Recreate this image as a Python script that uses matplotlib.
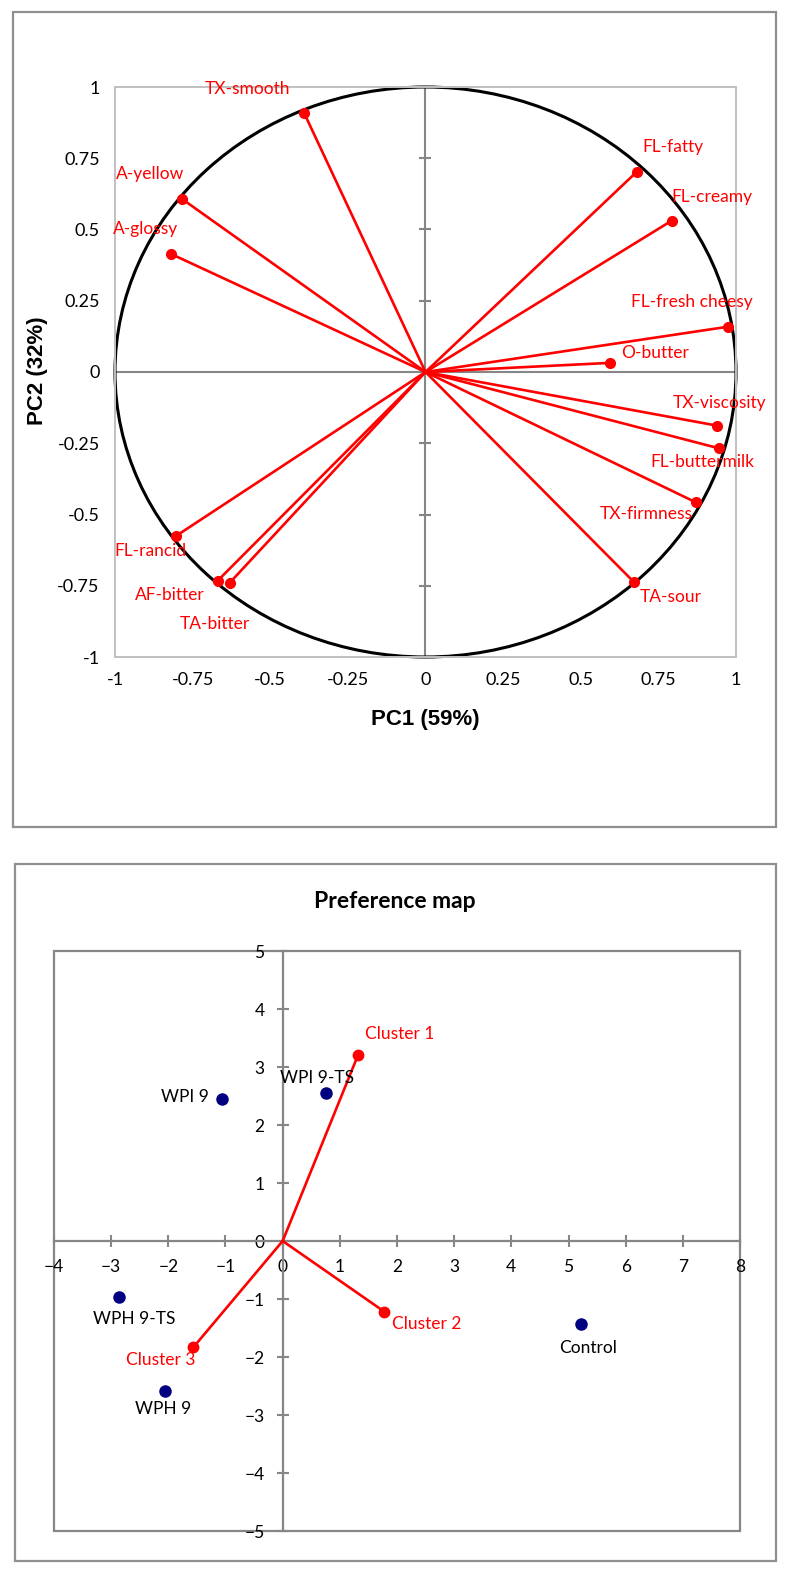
import numpy as np
import matplotlib
matplotlib.use("Agg")
import matplotlib.pyplot as plt
from matplotlib.patches import Circle, Rectangle

# loadings on PC1 / PC2 (correlation circle)
attributes = ["TX-smooth", "A-yellow", "A-glossy", "FL-fatty", "FL-creamy",
              "FL-fresh cheesy", "O-butter", "TX-viscosity", "FL-buttermilk",
              "TX-firmness", "TA-sour", "FL-rancid", "AF-bitter", "TA-bitter"]
pc1 = [-0.391, -0.784, -0.819, 0.681, 0.793, 0.975, 0.594, 0.938, 0.946,
       0.870, 0.672, -0.803, -0.669, -0.630]
pc2 = [0.909, 0.607, 0.414, 0.703, 0.531, 0.159, 0.032, -0.188, -0.268,
       -0.457, -0.738, -0.575, -0.732, -0.739]

# preference map
products = ["WPI 9", "WPI 9-TS", "WPH 9-TS", "WPH 9", "Control"]
prod_x = [-1.06, 0.75, -2.87, -2.06, 5.22]
prod_y = [2.44, 2.56, -0.96, -2.59, -1.43]
clusters = ["Cluster 1", "Cluster 2", "Cluster 3"]
clus_x = [1.32, 1.78, -1.56]
clus_y = [3.21, -1.22, -1.83]

ticks1 = [-1, -0.75, -0.5, -0.25, 0, 0.25, 0.5, 0.75, 1]
tick1_labels = ["-1", "-0.75", "-0.5", "-0.25", "0", "0.25", "0.5", "0.75", "1"]
xticks2 = list(range(-4, 9))
yticks2 = list(range(-5, 6))

# label offsets in pixels (placement only)
attr_off = [(-57, 24), (-32, 25), (-26, 25), (36, 25), (40, 24), (-36, 25),
            (45, 10), (3, 23), (-17, -14), (-49, -12), (37, -15), (-26, -15),
            (-48, -14), (-15, -41)]
prod_off = [(-37, 2), (-9, 15), (16, -22), (-2, -18), (7, -24)]
clus_off = [(42, 21), (42, -12), (-33, -13)]

W, H = 789, 1571
FONT = "Lato"
RED = "#ff0000"
NAVY = "#000080"
GRAY = "#868686"

fig = plt.figure(figsize=(W / 100, H / 100), dpi=100)


def px_axes(x0, y0, x1, y1):
    return fig.add_axes([x0 / W, 1 - y1 / H, (x1 - x0) / W, (y1 - y0) / H])


def outer_box(x0, y0, x1, y1):
    fig.add_artist(Rectangle((x0 / W, 1 - y1 / H), (x1 - x0) / W, (y1 - y0) / H,
                             transform=fig.transFigure, fill=False,
                             ec="#8f8f8f", lw=1.6))


# ---------------- top: correlation circle ----------------
outer_box(13, 12, 776, 827)
ax = px_axes(115, 87, 736, 657)
ax.set_xlim(-1, 1)
ax.set_ylim(-1, 1)
for s in ax.spines.values():
    s.set_color("#c0c0c0")
    s.set_linewidth(1.4)
ax.set_xticks(ticks1)
ax.set_xticklabels(tick1_labels)
ax.set_yticks(ticks1)
ax.set_yticklabels(tick1_labels)
ax.tick_params(length=0, labelsize=13, pad=11)
for lab in ax.get_xticklabels() + ax.get_yticklabels():
    lab.set_fontfamily(FONT)

ax.axhline(0, color=GRAY, lw=1.5, zorder=1)
ax.axvline(0, color=GRAY, lw=1.5, zorder=1)
ax.plot(np.zeros(len(ticks1)), ticks1, ls="none", marker="_", ms=9,
        mew=1.5, color=GRAY, zorder=1)

ax.add_patch(Circle((0, 0), 1, fill=False, ec="black", lw=2.2,
                    clip_on=False, zorder=2))

for name, x, y, off in zip(attributes, pc1, pc2, attr_off):
    ax.plot([0, x], [0, y], color=RED, lw=1.9, zorder=3)
    ax.plot(x, y, "o", color=RED, ms=7, zorder=4)
    ax.annotate(name, (x, y), xytext=off, textcoords="offset pixels",
                ha="center", va="center", color=RED, fontsize=12.5,
                family=FONT, zorder=5)

ax.set_xlabel("PC1 (59%)", fontsize=16, fontweight="bold",
              family="Liberation Sans")
ax.xaxis.set_label_coords(0.5, -0.109)
ax.xaxis.label.set_va("center")
ax.set_ylabel("PC2 (32%)", fontsize=16, fontweight="bold",
              family="Liberation Sans")
ax.yaxis.set_label_coords(-0.1256, 0.503)
ax.yaxis.label.set_va("center")

# ---------------- bottom: preference map ----------------
outer_box(15, 864, 776, 1561)
bx = px_axes(54, 951, 740, 1531)
bx.set_xlim(-4, 8)
bx.set_ylim(-5, 5)
bx.spines["top"].set_visible(False)
bx.spines["right"].set_visible(False)
bx.spines["left"].set_position(("data", 0))
bx.spines["bottom"].set_position(("data", 0))
for s in ("left", "bottom"):
    bx.spines[s].set_color(GRAY)
    bx.spines[s].set_linewidth(1.6)
bx.add_patch(Rectangle((0, 0), 1, 1, transform=bx.transAxes, fill=False,
                       ec=GRAY, lw=1.6, clip_on=False, zorder=0))
bx.set_xticks(xticks2)
bx.set_yticks(yticks2)
bx.tick_params(direction="inout", length=8, width=1.5, color=GRAY,
               labelsize=12.5, pad=9)
for lab in bx.get_xticklabels() + bx.get_yticklabels():
    lab.set_fontfamily(FONT)

for name, x, y, off in zip(clusters, clus_x, clus_y, clus_off):
    bx.plot([0, x], [0, y], color=RED, lw=1.9, zorder=3)
    bx.plot(x, y, "o", color=RED, ms=7.5, zorder=4)
    bx.annotate(name, (x, y), xytext=off, textcoords="offset pixels",
                ha="center", va="center", color=RED, fontsize=12.5,
                family=FONT, zorder=5)

bx.plot(prod_x, prod_y, "o", ls="none", color=NAVY, ms=8, zorder=4)
for name, x, y, off in zip(products, prod_x, prod_y, prod_off):
    bx.annotate(name, (x, y), xytext=off, textcoords="offset pixels",
                ha="center", va="center", color="black", fontsize=12.5,
                family=FONT, zorder=5)

bx.text(0.497, 1.0845, "Preference map", transform=bx.transAxes,
        ha="center", va="center", fontsize=16.5, fontweight="bold",
        family=FONT)

fig.savefig("out.png", dpi=100)
